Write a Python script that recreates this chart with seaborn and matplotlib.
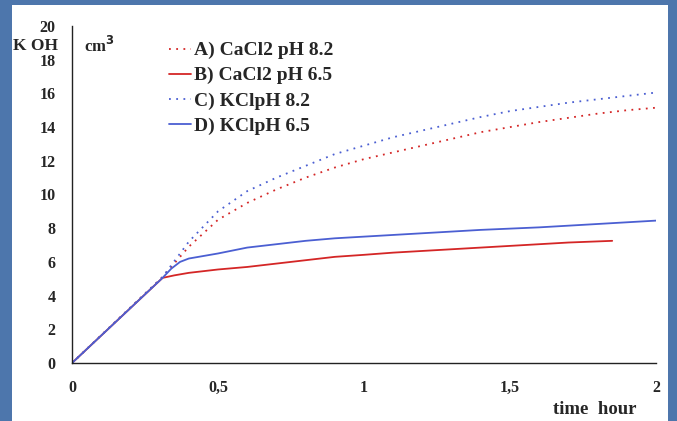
import pandas as pd
import numpy as np
import matplotlib.pyplot as plt
import seaborn as sns
from matplotlib.patches import Rectangle

# data (time in hours, KOH in cm3)
t_a = [0, 0.31, 0.4, 0.5, 0.6, 0.7, 0.8, 0.9, 1.0, 1.1, 1.2, 1.3, 1.4, 1.5, 1.6, 1.7, 1.8, 1.9, 2.0]
koh_a = [0, 5.1, 6.9, 8.5, 9.5, 10.3, 11.0, 11.6, 12.1, 12.5, 12.9, 13.3, 13.7, 14.0, 14.3, 14.55, 14.8, 15.0, 15.15]

t_b = [0, 0.31, 0.35, 0.4, 0.5, 0.6, 0.7, 0.8, 0.9, 1.0, 1.1, 1.2, 1.3, 1.4, 1.5, 1.6, 1.7, 1.85]
koh_b = [0, 5.05, 5.2, 5.35, 5.55, 5.7, 5.9, 6.1, 6.3, 6.42, 6.55, 6.65, 6.75, 6.85, 6.95, 7.05, 7.15, 7.25]

t_c = [0, 0.31, 0.4, 0.5, 0.6, 0.7, 0.8, 0.9, 1.0, 1.1, 1.2, 1.3, 1.4, 1.5, 1.6, 1.7, 1.8, 1.9, 2.0]
koh_c = [0, 5.1, 7.2, 9.0, 10.2, 11.0, 11.7, 12.4, 12.9, 13.4, 13.8, 14.2, 14.6, 14.95, 15.2, 15.45, 15.65, 15.85, 16.05]

t_d = [0, 0.31, 0.34, 0.37, 0.4, 0.5, 0.6, 0.7, 0.8, 0.9, 1.0, 1.2, 1.4, 1.6, 1.8, 2.0]
koh_d = [0, 5.05, 5.6, 6.0, 6.2, 6.5, 6.85, 7.05, 7.25, 7.4, 7.5, 7.7, 7.9, 8.05, 8.25, 8.45]

labels = ["A) CaCl2 pH 8.2", "B) CaCl2 pH 6.5", "C) KClpH 8.2", "D) KClpH 6.5"]
x_ticks = [0, 0.5, 1, 1.5, 2]
x_ticklabels = ["0", "0,5", "1", "1,5", "2"]
y_ticks = list(range(0, 21, 2))

sns.set_style("white")
plt.rcParams['font.family'] = ['Liberation Serif', 'DejaVu Serif']
plt.rcParams['font.weight'] = 'bold'

fig = plt.figure(figsize=(6.77, 4.21), dpi=100)
fig.patch.set_facecolor('#4d76ac')
# white slide panel
fig.patches.append(Rectangle((12 / 677, 0), 656 / 677, 1 - 5 / 421,
                             transform=fig.transFigure, facecolor='white',
                             edgecolor='none', zorder=-5))

ax = fig.add_axes([72 / 677, 1 - 363 / 421, 584 / 677, (363 - 26) / 421])
ax.set_facecolor('none')
ax.set_zorder(2)

red = '#d42626'
blue = '#4b5fd2'
series = [
    (t_a, koh_a, red, (0, (1, 3))),
    (t_b, koh_b, red, '-'),
    (t_c, koh_c, blue, (0, (1, 3))),
    (t_d, koh_d, blue, '-'),
]
for (t, y, c, ls), lab in zip(series, labels):
    df = pd.DataFrame({'time': t, 'koh': y})
    sns.lineplot(data=df, x='time', y='koh', ax=ax, color=c, linestyle=ls,
                 linewidth=1.3, label=lab)

ax.set_xlim(0, 2)
ax.set_ylim(0, 20)
ax.set_xticks(x_ticks)
ax.set_xticklabels(x_ticklabels)
ax.set_yticks(y_ticks)
ax.set_xlabel('')
ax.set_ylabel('')
for s in ['top', 'right']:
    ax.spines[s].set_visible(False)
for s in ['left', 'bottom']:
    ax.spines[s].set_color('#222222')
    ax.spines[s].set_linewidth(1.0)
ax.tick_params(axis='both', direction='out', length=4, width=1, color='#222222',
               labelsize=11.5, pad=8)
for lbl in ax.get_xticklabels() + ax.get_yticklabels():
    lbl.set_fontweight('bold')

leg = ax.legend(loc='upper left', bbox_to_anchor=(159 / 677, 1 - 32 / 421),
                bbox_transform=fig.transFigure, frameon=False,
                prop={'size': 14, 'weight': 'bold'}, handlelength=1.15,
                handletextpad=0.15, labelspacing=0.38, borderpad=0)

fig.text(13 / 677, 1 - 46 / 421, 'K OH', fontsize=12.5, fontweight='bold',
         ha='left', va='center')
fig.text(84 / 677, 1 - 46 / 421, 'cm$^\\mathbf{3}$', fontsize=12, fontweight='bold',
         ha='left', va='center')
fig.text(553 / 677, 1 - 409 / 421, 'time  hour', fontsize=13.5, fontweight='bold',
         ha='left', va='center')

fig.savefig('out.png', dpi=100, facecolor=fig.get_facecolor())
